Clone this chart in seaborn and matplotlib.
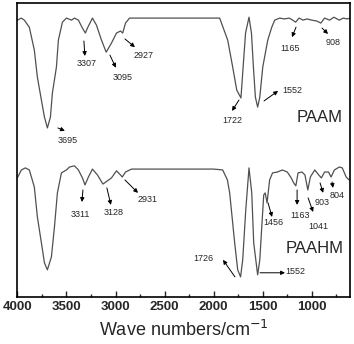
import pandas as pd
import matplotlib
matplotlib.use('Agg')
import matplotlib.pyplot as plt
import seaborn as sns

# FTIR spectra (transmittance, arbitrary %, offset stacked)
paam_wn = [4000, 3959, 3929, 3878, 3827, 3796, 3755, 3724, 3694, 3663, 3643, 3602,
           3582, 3541, 3500, 3449, 3418, 3378, 3337, 3307, 3286, 3235, 3194, 3143,
           3095, 3041, 2990, 2949, 2927, 2898, 2857, 2500, 2000, 1939, 1857, 1806,
           1765, 1722, 1700, 1675, 1640, 1615, 1595, 1575, 1552, 1530, 1500, 1449,
           1408, 1378, 1327, 1280, 1230, 1195, 1165, 1130, 1090, 1050, 1000, 950,
           908, 870, 820, 775, 720, 680, 640, 610]
paam_t = [94.2, 94.9, 94.2, 91.8, 84.0, 74.8, 67.0, 61.2, 57.5, 61.2, 69.4, 78.2,
          87.4, 93.5, 94.9, 94.2, 94.9, 94.2, 91.5, 89.8, 91.5, 94.9, 92.5, 87.4,
          83.3, 86.4, 89.8, 90.5, 89.8, 93.2, 94.9, 94.9, 94.9, 94.9, 87.4, 78.2,
          70.4, 67.7, 78.2, 89.8, 95.2, 89.8, 78.2, 68.0, 64.6, 68.0, 78.2, 87.4,
          91.8, 94.2, 94.9, 94.6, 94.9, 94.2, 93.5, 94.9, 94.2, 94.6, 94.2, 93.9,
          93.2, 94.9, 94.2, 95.2, 94.2, 94.9, 94.6, 94.9]

paahm_wn = [4000, 3959, 3918, 3878, 3848, 3827, 3796, 3755, 3724, 3694, 3653, 3622,
            3592, 3551, 3500, 3469, 3418, 3378, 3337, 3311, 3276, 3235, 3184, 3128,
            3041, 2990, 2949, 2931, 2898, 2837, 2500, 2000, 1908, 1860, 1837, 1786,
            1755, 1726, 1704, 1673, 1640, 1612, 1592, 1552, 1530, 1510, 1490, 1475,
            1456, 1430, 1400, 1350, 1300, 1250, 1210, 1185, 1163, 1140, 1100, 1070,
            1041, 1015, 970, 930, 903, 870, 830, 804, 770, 720, 690, 650, 620]
paahm_t = [40.5, 43.2, 43.9, 43.2, 39.8, 37.4, 27.2, 18.4, 11.6, 9.2, 13.6, 23.8,
           35.4, 42.2, 43.2, 44.2, 44.6, 43.2, 40.5, 38.1, 40.8, 43.5, 41.5, 38.4,
           40.5, 42.9, 41.5, 40.8, 42.5, 43.5, 43.5, 43.5, 43.2, 39.8, 35.4, 18.4,
           9.2, 6.8, 12.6, 29.6, 43.9, 35.4, 18.4, 7.5, 12.6, 23.8, 34.7, 35.4,
           32.0, 39.8, 42.2, 42.5, 43.2, 42.5, 40.5, 38.8, 37.8, 42.2, 42.5, 41.5,
           36.4, 40.8, 43.2, 41.5, 40.5, 42.5, 42.5, 40.8, 43.2, 44.2, 43.9, 40.8, 39.8]

samples = ['PAAM', 'PAAHM']
paam_peaks = ['3695', '3307', '3095', '2927', '1722', '1552', '1165', '908']
paahm_peaks = ['3311', '3128', '2931', '1456', '1163', '1041', '903', '804', '1726', '1552']

df = pd.concat([
    pd.DataFrame({'wn': paam_wn, 'T': paam_t, 'sample': samples[0]}),
    pd.DataFrame({'wn': paahm_wn, 'T': paahm_t, 'sample': samples[1]}),
])

sns.set_style('ticks')
plt.rcParams['font.family'] = ['Liberation Sans', 'DejaVu Sans']

fig = plt.figure(figsize=(3.54, 3.44), dpi=100)
ax = fig.add_axes([0.049, 0.137, 0.940, 0.854])

sns.lineplot(data=df, x='wn', y='T', hue='sample', units='sample', estimator=None,
             palette=['#505050', '#505050'], linewidth=0.9, legend=False, ax=ax)

ax.set_xlim(4000, 610)
ax.set_ylim(0, 100)
ax.set_xticks([4000, 3500, 3000, 2500, 2000, 1500, 1000])
ax.set_xticks([3750, 3250, 2750, 2250, 1750, 1250, 750], minor=True)
ax.set_yticks([])
ax.tick_params(axis='x', which='major', direction='in', length=4, width=1, pad=3,
               labelsize=9.5)
ax.tick_params(axis='x', which='minor', direction='in', length=2.5, width=1)
for lab in ax.get_xticklabels():
    lab.set_fontweight('bold')
for s in ax.spines.values():
    s.set_linewidth(1.2)
    s.set_color('black')
ax.set_xlabel('Wave numbers/cm$^{-1}$', fontsize=13, labelpad=5)
ax.set_ylabel('')

# annotation layout: (arrow tail, arrow head, text centre) in data coords
paam_layout = [
    ((3587, 57.5), (3516, 56.5), (3485, 53.1)),
    ((3322, 87.1), (3312, 82.0), (3291, 79.3)),
    ((3057, 82.3), (2996, 78.0), (2924, 74.8)),
    ((2904, 87.8), (2802, 85.0), (2710, 82.3)),
    ((1742, 67.0), (1813, 63.3), (1813, 59.9)),
    ((1487, 66.7), (1344, 70.1), (1202, 70.4)),
    ((1161, 91.8), (1202, 88.4), (1222, 84.4)),
    ((896, 91.5), (835, 89.5), (784, 86.7)),
]
paahm_layout = [
    ((3332, 36.4), (3342, 32.3), (3363, 28.2)),
    ((3088, 37.1), (3047, 31.3), (3016, 28.6)),
    ((2904, 39.8), (2771, 35.4), (2670, 33.3)),
    ((1446, 32.0), (1405, 27.2), (1395, 25.2)),
    ((1150, 36.4), (1150, 31.3), (1120, 27.6)),
    ((1038, 33.7), (987, 28.9), (936, 24.1)),
    ((916, 38.8), (885, 35.4), (896, 32.0)),
    ((794, 39.1), (784, 37.1), (743, 34.4)),
    ((1783, 6.8), (1905, 12.6), (2109, 12.9)),
    ((1528, 8.2), (1273, 8.2), (1171, 8.5)),
]

for labels, layout in [(paam_peaks, paam_layout), (paahm_peaks, paahm_layout)]:
    for lab, (tail, head, txt) in zip(labels, layout):
        ax.annotate('', xy=head, xytext=tail,
                    arrowprops=dict(arrowstyle='-|>', color='black', lw=0.7,
                                    mutation_scale=6, shrinkA=0, shrinkB=0))
        ax.text(txt[0], txt[1], lab, fontsize=6.5, ha='center', va='center')

ax.text(916, 61.2, samples[0], fontsize=12, ha='center', va='center')
ax.text(967, 16.3, samples[1], fontsize=12, ha='center', va='center')

plt.savefig('out.png', dpi=100)
